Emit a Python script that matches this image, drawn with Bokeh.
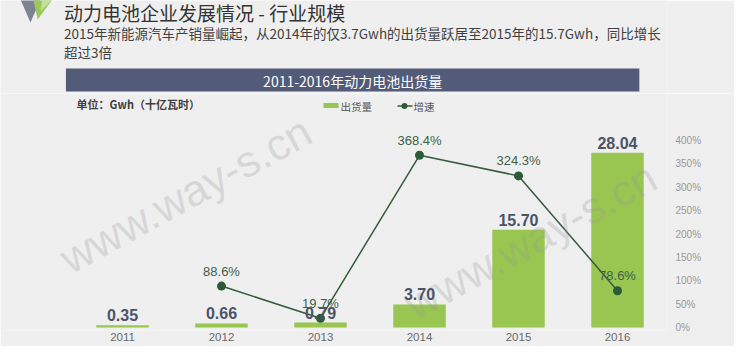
from bokeh.plotting import figure
from bokeh.layouts import column
from bokeh.models import (Range1d, LinearAxis, FixedTicker, PrintfTickFormatter,
                          ColumnDataSource, LabelSet)
from bokeh.core.properties import value
from bokeh.embed import file_html
from bokeh.resources import INLINE

# ---------------- data ----------------
years = [2011, 2012, 2013, 2014, 2015, 2016]
shipments = [0.35, 0.66, 0.79, 3.70, 15.70, 28.04]
shipment_labels = ["0.35", "0.66", "0.79", "3.70", "15.70", "28.04"]
growth_years = [2012, 2013, 2014, 2015, 2016]
growth = [88.6, 19.7, 368.4, 324.3, 78.6]
growth_labels = ["88.6%", "19.7%", "368.4%", "324.3%", "78.6%"]
pct_ticks = [0, 50, 100, 150, 200, 250, 300, 350, 400]

title_text = "动力电池企业发展情况 - 行业规模"
subtitle1 = "2015年新能源汽车产销量崛起，从2014年的仅3.7Gwh的出货量跃居至2015年的15.7Gwh，同比增长"
subtitle2 = "超过3倍"
chart_title = "2011-2016年动力电池出货量"
unit_text = "单位：Gwh（十亿瓦时）"
legend_labels = ["出货量", "增速"]
watermark = "www.way-s.cn"

# ---------------- layout constants (pixels) ----------------
W, H = 734, 346
HEAD_H = 93            # header strip height
FRAME_R = 667          # right edge of chart frame
FRAME_B = 330          # bottom edge of chart frame
BASELINE = 327         # bar baseline
AXPX = 187             # px for 30 Gwh / 400 %
X0PX, XSTEP = 122, 99  # px of first year, px per year

CJK = "Noto Sans CJK SC"
LAT = "Liberation Sans"
BG = "#efefef"
BAR = "#98c650"
LINE = "#355c3d"
DOT = "#2d5a36"
BANNER = "#525b78"

# ---------------- header figure ----------------
h = figure(width=W, height=HEAD_H, x_range=Range1d(0, W), y_range=Range1d(HEAD_H, 0),
           x_axis_type=None, y_axis_type=None, toolbar_location=None,
           output_backend="svg", min_border=0,
           background_fill_color=BG, border_fill_color=BG, outline_line_color=None)

h.patches(xs=[[22, 44, 33], [36, 57, 41], [46, 57, 44]],
          ys=[[-1, -1, 22], [-1, -1, 19], [-1, -1, 11]],
          fill_color=["#7c8493", "#9cc85a", "#c3df9c"], line_color=None)

h.text(x=[70], y=[11.5], text=[title_text], text_font=value(CJK), text_font_size="19px",
       text_color="#333333", text_baseline="middle", text_align="left")
h.text(x=[70, 70], y=[32, 51], text=[subtitle1, subtitle2], text_font=value(CJK),
       text_font_size="13.5px", text_color="#404040", text_baseline="middle",
       text_align="left")
h.quad(left=[72], right=[703], top=[68], bottom=[91], fill_color=BANNER, line_color=None)
h.text(x=[387.5], y=[80], text=[chart_title], text_font=value(CJK), text_font_size="14px",
       text_color="#ffffff", text_baseline="middle", text_align="center")

# ---------------- chart figure ----------------
x_start = years[0] - X0PX / XSTEP
x_end = x_start + FRAME_R / XSTEP
px_per_bar = AXPX / 30.0
px_per_pct = AXPX / 400.0
y_bar = Range1d(-(FRAME_B - BASELINE) / px_per_bar, (BASELINE - HEAD_H) / px_per_bar)
y_pct = Range1d(-(FRAME_B - BASELINE) / px_per_pct, (BASELINE - HEAD_H) / px_per_pct)

p = figure(width=W, height=H - HEAD_H, x_range=Range1d(x_start, x_end), y_range=y_bar,
           x_axis_type=None, y_axis_type=None, toolbar_location=None,
           output_backend="svg", min_border_left=0, min_border_top=0,
           min_border_right=W - FRAME_R, min_border_bottom=H - FRAME_B,
           background_fill_color=BG, border_fill_color=BG, outline_line_color=None)
p.extra_x_ranges = {"px": Range1d(0, FRAME_R)}
p.extra_y_ranges = {"py": Range1d(FRAME_B, HEAD_H), "pct": y_pct}

# unit label and legend
p.text(x=[76], y=[103], text=[unit_text], text_font=value(CJK), text_font_size="11px",
       text_font_style="bold", text_color="#404040", text_baseline="middle",
       text_align="left", x_range_name="px", y_range_name="py")
p.quad(left=[323], right=[338], top=[102.5], bottom=[107.5], fill_color=BAR, line_color=None,
       x_range_name="px", y_range_name="py")
p.line(x=[397, 412], y=[105.5, 105.5], line_color=LINE, line_width=1.5,
       x_range_name="px", y_range_name="py")
p.scatter(x=[404], y=[105.5], size=6, fill_color=DOT, line_color=None,
          x_range_name="px", y_range_name="py")
p.text(x=[340, 413], y=[106, 106], text=legend_labels, text_font=value(CJK),
       text_font_size="10.5px", text_color="#555555", text_baseline="middle",
       text_align="left", x_range_name="px", y_range_name="py")

# bars, line, points
p.vbar(x=years, top=shipments, width=0.53, fill_color=BAR, line_color=None)
p.line(x=growth_years, y=growth, line_color=LINE, line_width=1.5, y_range_name="pct")
p.scatter(x=growth_years, y=growth, size=9, fill_color=DOT, line_color=None,
          y_range_name="pct")

bar_src = ColumnDataSource(dict(x=years, y=shipments, t=shipment_labels))
p.add_layout(LabelSet(x="x", y="y", text="t", source=bar_src, y_offset=10,
                      text_align="center", text_baseline="middle",
                      text_font=value(LAT), text_font_size="16px", text_font_style="bold",
                      text_color="#4a5469"))
g_src = ColumnDataSource(dict(x=growth_years, y=growth, t=growth_labels))
p.add_layout(LabelSet(x="x", y="y", text="t", source=g_src, y_offset=15,
                      y_range_name="pct", text_align="center", text_baseline="middle",
                      text_font=value(LAT), text_font_size="13px", text_color="#3e5f46"))

ax_r = LinearAxis(y_range_name="pct", ticker=FixedTicker(ticks=pct_ticks),
                  formatter=PrintfTickFormatter(format="%d%%"))
ax_r.axis_line_color = None
ax_r.major_tick_line_color = None
ax_r.minor_tick_line_color = None
ax_r.major_tick_out = 0
ax_r.major_label_standoff = 8
ax_r.major_label_text_font = LAT
ax_r.major_label_text_font_size = "10px"
ax_r.major_label_text_color = "#999999"
p.add_layout(ax_r, "right")

ax_b = LinearAxis(ticker=FixedTicker(ticks=years), formatter=PrintfTickFormatter(format="%d"))
ax_b.axis_line_color = None
ax_b.major_tick_line_color = None
ax_b.minor_tick_line_color = None
ax_b.major_tick_out = 0
ax_b.major_tick_in = 0
ax_b.major_label_standoff = 2
ax_b.major_label_text_font = LAT
ax_b.major_label_text_font_size = "11.5px"
ax_b.major_label_text_color = "#6a6a6a"
p.add_layout(ax_b, "below")

# watermark
p.text(x=[185, 530], y=[194, 240], text=[watermark, watermark], angle=0.5,
       text_font=value(LAT), text_font_size="44px", text_color="#9a9a9a", text_alpha=0.3,
       text_baseline="middle", text_align="center", x_range_name="px", y_range_name="py")

page = column(h, p, spacing=0)
open("out.html", "w").write(file_html(page, INLINE))
